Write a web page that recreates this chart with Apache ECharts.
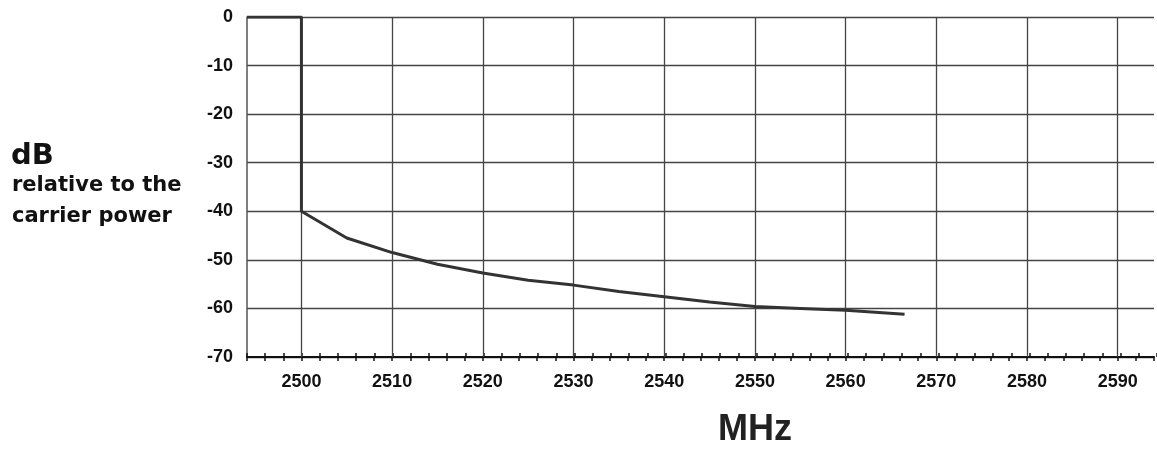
<!DOCTYPE html>
<html lang="en">
  <head>
    <meta charset="UTF-8" />
    <title>Spectrum mask</title>
    <script src="https://cdn.jsdelivr.net/npm/echarts@6.0.0/dist/echarts.min.js"></script>
    <style>
      body { margin: 0; background: #fff; }
    </style>
  </head>
  <body>
    <div id="main" style="width: 1157px; height: 452px"></div>
    <script type="text/javascript">
      // values
      const freqMHz = [2494, 2500, 2500, 2505, 2510, 2515, 2520, 2525, 2530, 2535, 2540, 2545, 2550, 2555, 2560, 2566.5];
      const levelDb = [0, 0, -40, -45.5, -48.5, -50.9, -52.7, -54.2, -55.2, -56.5, -57.6, -58.7, -59.6, -60.0, -60.4, -61.2];
      const gridFreqs = [2500, 2510, 2520, 2530, 2540, 2550, 2560, 2570, 2580, 2590];

      const font = "Liberation Sans, Arial, sans-serif";
      const sideFont = "DejaVu Sans, sans-serif";
      let myChart = echarts.init(document.getElementById("main"));

      let gridBox = { left: 247, right: 0, top: 17, bottom: 95 };
      let xBase = {
        type: "value",
        min: 2494,
        max: 2594,
        interval: 2,
        position: "bottom",
        splitLine: { show: false },
      };

      let options = {
        animation: false,
        backgroundColor: "#fff",
        // second grid sits on top of the first, only to draw the upper half of the ticks
        grid: [Object.assign({}, gridBox), Object.assign({}, gridBox)],
        xAxis: [
          Object.assign({}, xBase, {
            gridIndex: 0,
            axisLine: { onZero: false, lineStyle: { color: "#111", width: 2 } },
            axisTick: { show: true, inside: false, length: 4, lineStyle: { color: "#111", width: 1.5 } },
            axisLabel: {
              margin: 16,
              color: "#111",
              fontFamily: font,
              fontWeight: "bold",
              fontSize: 18,
              formatter: (v) => (v % 10 === 0 ? String(v) : ""),
            },
          }),
          Object.assign({}, xBase, {
            gridIndex: 1,
            axisLine: { show: false, onZero: false },
            axisTick: { show: true, inside: true, length: 4, lineStyle: { color: "#111", width: 1.5 } },
            axisLabel: { show: false },
          }),
        ],
        yAxis: [
          {
            gridIndex: 0,
            type: "value",
            min: -70,
            max: 0,
            interval: 10,
            axisLine: { show: true, lineStyle: { color: "#555", width: 1.5 } },
            axisTick: { show: false },
            splitLine: { lineStyle: { color: "#444", width: 1.3 } },
            axisLabel: {
              margin: 14,
              color: "#111",
              fontFamily: font,
              fontWeight: "bold",
              fontSize: 18,
            },
          },
          {
            gridIndex: 1,
            type: "value",
            min: -70,
            max: 0,
            show: false,
          },
        ],
        graphic: [
          { type: "text", left: 11, top: 142, style: { text: "dB", font: "bold 29px " + sideFont, fill: "#111" } },
          { type: "text", left: 12, top: 175, style: { text: "relative to the", font: "bold 21px " + sideFont, fill: "#111" } },
          { type: "text", left: 12, top: 206, style: { text: "carrier power", font: "bold 21px " + sideFont, fill: "#111" } },
          { type: "text", left: 718, top: 412, style: { text: "MHz", font: "bold 36px " + font, fill: "#222" } },
        ],
        series: [
          {
            type: "line",
            xAxisIndex: 0,
            yAxisIndex: 0,
            data: freqMHz.map((f, i) => [f, levelDb[i]]),
            showSymbol: false,
            lineStyle: { color: "#333", width: 3 },
            z: 5,
            markLine: {
              silent: true,
              symbol: "none",
              label: { show: false },
              lineStyle: { color: "#444", width: 1.3, type: "solid" },
              data: gridFreqs.map((f) => ({ xAxis: f })),
            },
          },
        ],
      };
      myChart.setOption(options);
    </script>
  </body>
</html>
